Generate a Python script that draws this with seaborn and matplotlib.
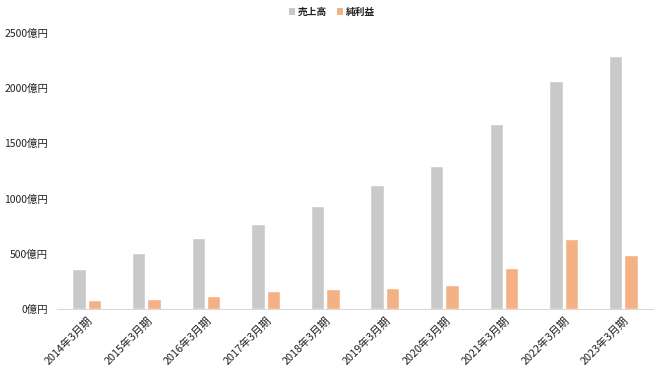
import matplotlib
matplotlib.use("Agg")
import matplotlib.pyplot as plt
import matplotlib.transforms as mtransforms
import seaborn as sns
import pandas as pd
from matplotlib.patches import Patch

categories = ["2014年3月期", "2015年3月期", "2016年3月期", "2017年3月期", "2018年3月期",
              "2019年3月期", "2020年3月期", "2021年3月期", "2022年3月期", "2023年3月期"]
sales = [362, 507, 640, 773, 936, 1120, 1295, 1678, 2065, 2292]
profit = [82, 93, 120, 160, 178, 193, 217, 374, 631, 486]
series_names = ["売上高", "純利益"]
yticks = [0, 500, 1000, 1500, 2000, 2500]

sns.set_theme(style="white")
plt.rcParams['font.family'] = ['Noto Sans CJK JP', 'DejaVu Sans']

df = pd.DataFrame({
    "期": categories * 2,
    "値": sales + profit,
    "系列": [series_names[0]] * len(categories) + [series_names[1]] * len(categories),
})
colors = {"売上高": "#C9C9C9", "純利益": "#F4B183"}

fig = plt.figure(figsize=(6.6, 3.71), dpi=100)
ax = fig.add_axes([57/660, (371-309)/371, (653-57)/660, (309-33)/371])
sns.barplot(data=df, x="期", y="値", hue="系列", palette=colors, width=0.52, gap=0.13,
            ax=ax, legend=False, saturation=1)
ax.set_ylim(0, 2500)
ax.set_xlim(-0.5, len(categories) - 0.5)
ax.set_yticks(yticks)
ax.set_yticklabels([f"{v}億円" for v in yticks], fontsize=7.5, color="#222222")
ax.set_xticks(range(len(categories)))
ax.set_xticklabels(categories, rotation=45, ha="right", va="center",
                   rotation_mode="anchor", fontsize=7.8, color="#222222")
ax.tick_params(axis="y", length=0, pad=6.5)
ax.tick_params(axis="x", length=0, pad=7)
offset = mtransforms.ScaledTranslation(4/100, 0, fig.dpi_scale_trans)
for lab in ax.get_xticklabels():
    lab.set_transform(lab.get_transform() + offset)
ax.set_xlabel("")
ax.set_ylabel("")
for s in ["top", "right", "left"]:
    ax.spines[s].set_visible(False)
ax.spines["bottom"].set_color("#D9D9D9")
ax.spines["bottom"].set_linewidth(0.8)

handles = [Patch(facecolor=colors[n], edgecolor="none", label=n) for n in series_names]
leg = fig.legend(handles=handles, loc="center", bbox_to_anchor=(332/660, 1 - 12/371), ncol=2,
                 frameon=False, handlelength=0.62, handleheight=0.62,
                 handletextpad=0.3, columnspacing=1.0, borderpad=0,
                 prop={"weight": "bold", "size": 7})
for t in leg.get_texts():
    t.set_color("#222222")

fig.savefig("out.png", dpi=100, facecolor="white")
